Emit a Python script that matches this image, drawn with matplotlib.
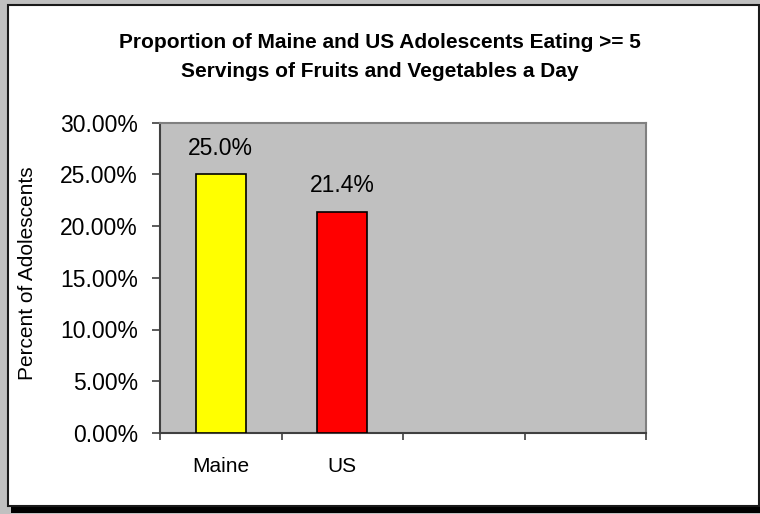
import matplotlib
matplotlib.use("Agg")
import matplotlib.pyplot as plt
from matplotlib.patches import Rectangle
from matplotlib.ticker import FuncFormatter, FixedLocator

plt.rcParams['font.family'] = ['Liberation Sans', 'DejaVu Sans']

# data
categories = ["Maine", "US", "", ""]
values = [0.250, 0.214]
bar_colors = ["#FFFF00", "#FF0000"]
value_labels = ["25.0%", "21.4%"]
yticks = [0.0, 0.05, 0.10, 0.15, 0.20, 0.25, 0.30]

W, H = 760, 514
fig = plt.figure(figsize=(W / 100, H / 100), dpi=100)
fig.patch.set_facecolor("#C0C0C0")

def px(x0, y0, x1, y1):
    # pixel box (top-left origin) -> figure fraction rect
    return (x0 / W, 1 - y1 / H, (x1 - x0) / W, (y1 - y0) / H)

# chart frame with shadow
sx, sy, sw, sh = px(11, 500, 762, 513)
fig.add_artist(Rectangle((sx, sy), sw, sh, transform=fig.transFigure,
                         facecolor="black", edgecolor="none", zorder=-2))
fx, fy, fw, fh = px(8, 5, 759, 506)
fig.add_artist(Rectangle((fx, fy), fw, fh, transform=fig.transFigure,
                         facecolor="white", edgecolor="#1a1a1a", lw=1.5, zorder=-1))

ax = fig.add_axes(px(160, 122.5, 646, 433))
ax.set_facecolor("#C0C0C0")

xpos = list(range(len(values)))
bars = ax.bar(xpos, values, width=0.415, color=bar_colors,
              edgecolor="black", linewidth=1.2, zorder=3)
for b, lab in zip(bars, value_labels):
    ax.annotate(lab, (b.get_x() + b.get_width() / 2, b.get_height()),
                xytext=(0, 14), textcoords="offset points",
                ha="center", va="baseline", fontsize=16.5)

ax.set_xlim(-0.5, len(categories) - 0.5)
ax.set_ylim(0, 0.30)
ax.set_yticks(yticks)
ax.yaxis.set_major_formatter(FuncFormatter(lambda v, p: f"{v * 100:.2f}%"))

ax.xaxis.set_major_locator(FixedLocator([i - 0.5 for i in range(len(categories) + 1)]))
ax.xaxis.set_major_formatter(FuncFormatter(lambda v, p: ""))
ax.xaxis.set_minor_locator(FixedLocator(list(range(len(categories)))))
ax.set_xticklabels(categories, minor=True)

ax.tick_params(axis="y", direction="out", length=6, width=1.2, color="#404040",
               labelsize=16.5, pad=10)
ax.tick_params(axis="x", which="major", direction="out", length=5, width=1.2,
               color="#404040")
ax.tick_params(axis="x", which="minor", length=0, labelsize=15, pad=17)

for s in ["left", "bottom"]:
    ax.spines[s].set_color("#404040")
    ax.spines[s].set_linewidth(1.5)
for s in ["top", "right"]:
    ax.spines[s].set_color("#808080")
    ax.spines[s].set_linewidth(1.5)

fig.text(28 / W, 1 - 273 / H, "Percent of Adolescents", rotation=90,
         ha="center", va="center", fontsize=15)

fig.text(380 / W, 1 - 48 / H, "Proportion of Maine and US Adolescents Eating >= 5",
         ha="center", va="baseline", fontsize=15, fontweight="bold")
fig.text(380 / W, 1 - 77 / H, "Servings of Fruits and Vegetables a Day",
         ha="center", va="baseline", fontsize=15, fontweight="bold")

fig.savefig("out.png", dpi=100, facecolor=fig.get_facecolor())
